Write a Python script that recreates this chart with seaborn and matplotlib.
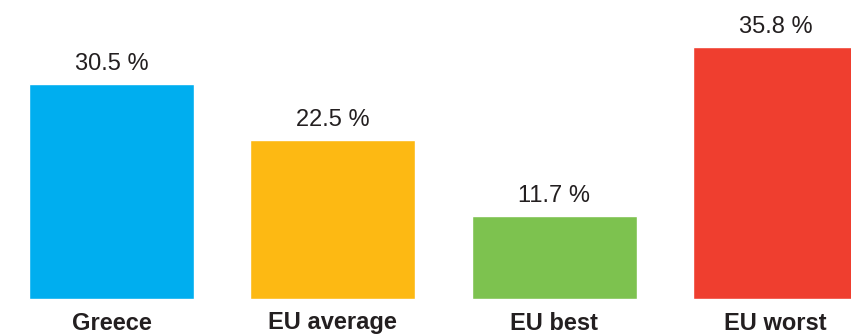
import matplotlib
matplotlib.use("Agg")
import matplotlib.pyplot as plt
import seaborn as sns
import pandas as pd

categories = ["Greece", "EU average", "EU best", "EU worst"]
values = [30.5, 22.5, 11.7, 35.8]
colors = ["#00AEEF", "#FDB913", "#7DC24F", "#EF3E2F"]
value_labels = ["30.5 %", "22.5 %", "11.7 %", "35.8 %"]

sns.set_theme(style="white")
plt.rcParams["font.family"] = ["Liberation Sans", "DejaVu Sans"]

W, H = 851, 335
fig = plt.figure(figsize=(W / 100, H / 100), dpi=100)
ax = fig.add_axes([0, 0, 1, 1])

df = pd.DataFrame({"cat": categories, "val": values})
sns.barplot(data=df, x="cat", y="val", hue="cat", palette=colors,
            order=categories, hue_order=categories, legend=False,
            width=0.745, saturation=1, ax=ax)

spacing = 221.3
x0 = 111.5
ax.set_xlim(-x0 / spacing, (W - x0) / spacing)
scale = 7.03
base = 298.5
ax.set_ylim(-(H - base) / scale, base / scale)

for i, (v, lab) in enumerate(zip(values, value_labels)):
    ax.text(i, v + 14 / scale, lab, ha="center", va="baseline",
            fontsize=17, color="#231F20")
    ax.text(i, -31 / scale, categories[i], ha="center", va="baseline",
            fontsize=17, fontweight="bold", color="#231F20")

ax.axis("off")
fig.savefig("out.png", dpi=100)
